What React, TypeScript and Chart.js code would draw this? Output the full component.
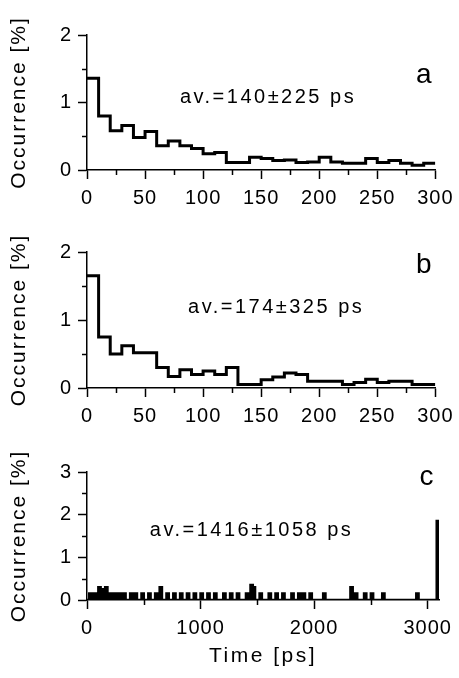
import React, { useEffect, useRef } from "react";
import { Chart, registerables } from "chart.js";
Chart.register(...registerables);

// ---------- data ----------
// Panels a and b: histogram bins of 10 ps (bin start times, ps)
const binWidthAB = 10;
const binStartsAB = [0, 10, 20, 30, 40, 50, 60, 70, 80, 90, 100, 110, 120, 130, 140, 150, 160, 170, 180, 190, 200, 210, 220, 230, 240, 250, 260, 270, 280, 290];
// Occurrence [%]
const occA = [1.36, 0.8, 0.58, 0.66, 0.48, 0.57, 0.36, 0.43, 0.36, 0.32, 0.24, 0.26, 0.11, 0.11, 0.19, 0.17, 0.14, 0.15, 0.11, 0.12, 0.19, 0.12, 0.1, 0.1, 0.17, 0.11, 0.14, 0.1, 0.07, 0.1];
const occB = [1.65, 0.75, 0.5, 0.62, 0.52, 0.52, 0.3, 0.17, 0.27, 0.2, 0.25, 0.2, 0.3, 0.05, 0.05, 0.12, 0.16, 0.22, 0.2, 0.1, 0.1, 0.1, 0.05, 0.08, 0.13, 0.08, 0.1, 0.1, 0.05, 0.05];
// Panel c: non-empty bins of 20 ps (bin start times, ps) and occurrence [%]
const binWidthC = 20;
const binStartsC = [20, 60, 100, 120, 160, 200, 240, 280, 320, 380, 420, 480, 540, 600, 640, 700, 760, 820, 880, 940, 1000, 1060, 1120, 1200, 1260, 1320, 1400, 1440, 1460, 1520, 1600, 1660, 1720, 1800, 1860, 1900, 1960, 2080, 2320, 2360, 2440, 2500, 2600, 2900, 3080];
const occC = [0.15, 0.15, 0.3, 0.25, 0.3, 0.15, 0.15, 0.15, 0.15, 0.15, 0.15, 0.15, 0.15, 0.15, 0.3, 0.15, 0.15, 0.15, 0.15, 0.15, 0.15, 0.15, 0.15, 0.15, 0.15, 0.15, 0.15, 0.35, 0.3, 0.15, 0.15, 0.15, 0.15, 0.15, 0.15, 0.15, 0.15, 0.15, 0.3, 0.15, 0.15, 0.15, 0.15, 0.15, 1.85];

const xTicksAB = [0, 50, 100, 150, 200, 250, 300];
const xMinorAB = [25, 75, 125, 175, 225, 275];
const yTicksAB = [0, 1, 2];
const yMinorAB = [0.5, 1.5];
const xTicksC = [0, 1000, 2000, 3000];
const xMinorC = [500, 1500, 2500];
const yTicksC = [0, 1, 2, 3];
const yMinorC = [0.5, 1.5, 2.5];

const notes = ["av.=140±225 ps", "av.=174±325 ps", "av.=1416±1058 ps"];
const letters = ["a", "b", "c"];
const yTitle = "Occurrence [%]";
const xTitle = "Time [ps]";

// ---------- helpers ----------
const FONT = "'Liberation Sans', Arial, Helvetica, sans-serif";

function stepPoints(starts: number[], vals: number[], w: number) {
  const pts = starts.map((x, i) => ({ x, y: vals[i] }));
  pts.push({ x: starts[starts.length - 1] + w, y: vals[vals.length - 1] });
  return pts;
}
function sparsePoints(starts: number[], vals: number[], w: number) {
  const pts: { x: number; y: number }[] = [{ x: 0, y: 0 }];
  starts.forEach((x, i) => {
    pts.push({ x, y: vals[i] });
    pts.push({ x: x + w, y: 0 });
  });
  return pts;
}

type Spec = {
  top: number;
  height: number;
  areaTop: number;
  areaBottom: number;
  points: { x: number; y: number }[];
  xMax: number;
  yMax: number;
  xTicks: number[];
  xMinor: number[];
  yTicks: number[];
  yMinor: number[];
  note: string;
  notePos: [number, number];
  letter: string;
  letterPos: [number, number];
  xTitleY?: number;
  lineWidth: number;
};

const specs: Spec[] = [
  {
    top: 0, height: 215, areaTop: 35, areaBottom: 170,
    points: stepPoints(binStartsAB, occA, binWidthAB),
    xMax: 300, yMax: 2, xTicks: xTicksAB, xMinor: xMinorAB, yTicks: yTicksAB, yMinor: yMinorAB,
    note: notes[0], notePos: [80, 1.07], letter: letters[0], letterPos: [290, 1.41], lineWidth: 3,
  },
  {
    top: 215, height: 215, areaTop: 252, areaBottom: 388,
    points: stepPoints(binStartsAB, occB, binWidthAB),
    xMax: 300, yMax: 2, xTicks: xTicksAB, xMinor: xMinorAB, yTicks: yTicksAB, yMinor: yMinorAB,
    note: notes[1], notePos: [87, 1.18], letter: letters[1], letterPos: [290, 1.81], lineWidth: 3,
  },
  {
    top: 430, height: 248, areaTop: 472, areaBottom: 600,
    points: sparsePoints(binStartsC, occC, binWidthC),
    xMax: 3100, yMax: 3, xTicks: xTicksC, xMinor: xMinorC, yTicks: yTicksC, yMinor: yMinorC,
    note: notes[2], notePos: [553, 1.64], letter: letters[2], letterPos: [2990, 2.88], lineWidth: 2.5,
    xTitleY: 656,
  },
];

function Panel({ spec }: { spec: Spec }) {
  const ref = useRef<HTMLCanvasElement>(null);
  useEffect(() => {
    const canvas = ref.current!;
    const spacing = {
      id: "spacing",
      beforeDraw(chart: any) {
        chart.ctx.letterSpacing = "1px";
      },
    };
    const extras = {
      id: "extras",
      afterDraw(chart: any) {
        const ctx = chart.ctx as CanvasRenderingContext2D;
        const a = chart.chartArea;
        const xs = chart.scales.x;
        const ys = chart.scales.y;
        ctx.save();
        ctx.strokeStyle = "#000";
        ctx.lineWidth = 1.5;
        spec.xMinor.forEach((v) => {
          const px = Math.round(xs.getPixelForValue(v)) + 0.5;
          ctx.beginPath();
          ctx.moveTo(px, a.bottom);
          ctx.lineTo(px, a.bottom + 5);
          ctx.stroke();
        });
        spec.yMinor.forEach((v) => {
          const py = Math.round(ys.getPixelForValue(v)) + 0.5;
          ctx.beginPath();
          ctx.moveTo(a.left, py);
          ctx.lineTo(a.left - 5, py);
          ctx.stroke();
        });
        ctx.fillStyle = "#000";
        // y title
        (ctx as any).letterSpacing = "2px";
        ctx.font = `21px ${FONT}`;
        ctx.save();
        ctx.translate(19, (a.top + a.bottom) / 2);
        ctx.rotate(-Math.PI / 2);
        ctx.textAlign = "center";
        ctx.textBaseline = "middle";
        ctx.fillText(yTitle, 0, 0);
        ctx.restore();
        // note
        (ctx as any).letterSpacing = "2.5px";
        ctx.font = `20px ${FONT}`;
        ctx.textAlign = "left";
        ctx.textBaseline = "middle";
        ctx.fillText(spec.note, xs.getPixelForValue(spec.notePos[0]), ys.getPixelForValue(spec.notePos[1]));
        // letter
        (ctx as any).letterSpacing = "0px";
        ctx.font = `28px ${FONT}`;
        ctx.textAlign = "center";
        ctx.fillText(spec.letter, xs.getPixelForValue(spec.letterPos[0]), ys.getPixelForValue(spec.letterPos[1]));
        // x title
        if (spec.xTitleY !== undefined) {
          (ctx as any).letterSpacing = "2.5px";
          ctx.font = `21px ${FONT}`;
          ctx.fillText(xTitle, (a.left + a.right) / 2, spec.xTitleY - spec.top);
        }
        ctx.restore();
      },
    };
    const tickFont = { family: FONT, size: 20 };
    const chart = new Chart(canvas, {
      type: "line",
      data: {
        datasets: [
          {
            data: spec.points,
            borderColor: "#000",
            borderWidth: spec.lineWidth,
            pointRadius: 0,
            stepped: true,
            fill: false,
            borderJoinStyle: "miter",
            borderCapStyle: "butt",
          } as any,
        ],
      },
      options: {
        responsive: false,
        animation: false,
        devicePixelRatio: 1,
        layout: { padding: { top: spec.areaTop - spec.top, right: 20, left: 0, bottom: 0 } },
        plugins: { legend: { display: false }, tooltip: { enabled: false } },
        scales: {
          x: {
            type: "linear",
            min: 0,
            max: spec.xMax,
            afterBuildTicks: (s: any) => {
              s.ticks = spec.xTicks.map((v) => ({ value: v }));
            },
            afterFit: (s: any) => {
              s.height = spec.height - (spec.areaBottom - spec.top);
            },
            grid: { drawOnChartArea: false, tickLength: 9, tickWidth: 1.5, tickColor: "#000" },
            border: { color: "#000", width: 1.5 },
            ticks: { color: "#000", font: tickFont, padding: 7, maxRotation: 0, autoSkip: false, callback: (v: any) => String(v) },
          },
          y: {
            type: "linear",
            min: 0,
            max: spec.yMax,
            afterBuildTicks: (s: any) => {
              s.ticks = spec.yTicks.map((v) => ({ value: v }));
            },
            afterFit: (s: any) => {
              s.width = 87;
            },
            grid: { drawOnChartArea: false, tickLength: 9, tickWidth: 1.5, tickColor: "#000" },
            border: { color: "#000", width: 1.5 },
            ticks: { color: "#000", font: tickFont, padding: 6, callback: (v: any) => String(v) },
          },
        },
      } as any,
      plugins: [spacing, extras],
    });
    return () => chart.destroy();
  }, [spec]);
  return (
    <canvas
      ref={ref}
      width={459}
      height={spec.height}
      style={{ position: "absolute", left: 0, top: spec.top, width: 459, height: spec.height }}
    />
  );
}

export default function App() {
  return (
    <div style={{ position: "absolute", left: 0, top: 0, width: 459, height: 678, background: "#fff" }}>
      {specs.map((s, i) => (
        <Panel key={i} spec={s} />
      ))}
    </div>
  );
}
